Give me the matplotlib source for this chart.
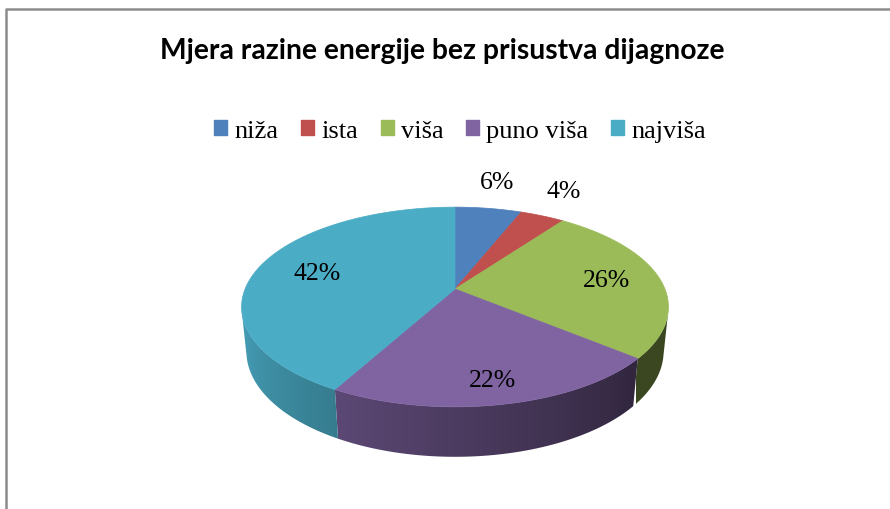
import numpy as np
import matplotlib.pyplot as plt
from matplotlib.patches import Polygon, Patch
from matplotlib.colors import to_rgb

# Data
categories = ["niža", "ista", "viša", "puno viša", "najviša"]
shares = [6, 4, 26, 22, 42]
colors = ["#4f81bd", "#c0504d", "#9bbb59", "#8064a2", "#4bacc6"]
label_radius = [1.3, 1.3, 0.74, 0.82, 0.70]
title = "Mjera razine energije bez prisustva dijagnoze"

# Layout (pixels) and the 3D view
W, H = 890, 510
CX, CY = 455, 290
FOCAL = 1035
DIST = 4.93
ELEV = np.radians(27.4)
THICK = 0.24
SERIF = "Liberation Serif"


def project(x, y, z):
    """Perspective projection of a point on the pie (radius 1) to pixels."""
    s, c = np.sin(ELEV), np.cos(ELEV)
    depth = DIST - (y * s + z * c)
    px = CX + FOCAL * x / depth
    py = CY - FOCAL * (y * c - z * s) / depth
    return px, py


def rim(theta, y):
    """Point on the rim at clockwise angle theta (0 = back)."""
    return project(np.sin(theta), y, -np.cos(theta))


def shade(theta_deg):
    return np.clip(0.38 + 0.00436 * (theta_deg - 130), 0.38, 0.92)


fig = plt.figure(figsize=(W / 100, H / 100), dpi=100)
ax = fig.add_axes([0, 0, 1, 1])
ax.axis("off")

# chart border (top and left only visible)
ax.plot([6, 6, W], [H, 10, 10], color="#8c8c8c", lw=1.8, solid_capstyle="butt")

total = sum(shares)
bounds = np.concatenate([[0], np.cumsum(shares)]) / total * 360

# visible wall range (front facing)
limit = np.degrees(np.arccos(-1 / (DIST * np.cos(ELEV))))
vis_lo, vis_hi = limit, 360 - limit

# side walls, shaded with a horizontal gradient
for i, col in enumerate(colors):
    lo, hi = max(bounds[i], vis_lo), min(bounds[i + 1], vis_hi)
    if hi <= lo:
        continue
    th = np.radians(np.linspace(lo, hi, 200))
    top = [rim(t, 0) for t in th]
    bot = [rim(t, -THICK) for t in th[::-1]]
    wall = Polygon(top + bot, closed=True, fc="none", ec="none")
    ax.add_patch(wall)

    xs = np.array([p[0] for p in top])
    order = np.argsort(xs)
    x0, x1 = xs.min() - 2, xs.max() + 2
    ys = [p[1] for p in top + bot]
    cols = np.linspace(x0, x1, 300)
    theta_col = np.interp(cols, xs[order], np.degrees(th)[order])
    base = np.array(to_rgb(col))
    img = (base[None, :] * shade(theta_col)[:, None])[None, :, :]
    im = ax.imshow(img, extent=[x0, x1, max(ys) + 2, min(ys) - 2],
                   aspect="auto", interpolation="bilinear", zorder=1)
    im.set_clip_path(wall)

# top faces
for i, col in enumerate(colors):
    th = np.radians(np.linspace(bounds[i], bounds[i + 1], 200))
    pts = [project(0, 0, 0)] + [rim(t, 0) for t in th]
    ax.add_patch(Polygon(pts, closed=True, fc=col, ec=col, lw=0.5, zorder=2))

# data labels
for i, v in enumerate(shares):
    mid = np.radians((bounds[i] + bounds[i + 1]) / 2)
    r = label_radius[i]
    px, py = project(r * np.sin(mid), 0, -r * np.cos(mid))
    if r > 1:
        py -= 7
    ax.text(px, py, f"{v}%", ha="center", va="center", family=SERIF,
            fontsize=18.5, color="black", zorder=3)

ax.set_xlim(0, W)
ax.set_ylim(H, 0)

fig.text(442 / W, 1 - 51 / H, title, ha="center", va="center",
         family="Lato", fontweight="bold", fontsize=20.3)

handles = [Patch(fc=c, ec=c) for c in colors]
fig.legend(handles, categories, loc="center", bbox_to_anchor=(460 / W, 1 - 132 / H),
           ncol=5, frameon=False, prop={"family": SERIF, "size": 19},
           handlelength=0.5, handleheight=0.5, handletextpad=0.27,
           columnspacing=0.85)

fig.savefig("out.png", dpi=100)
